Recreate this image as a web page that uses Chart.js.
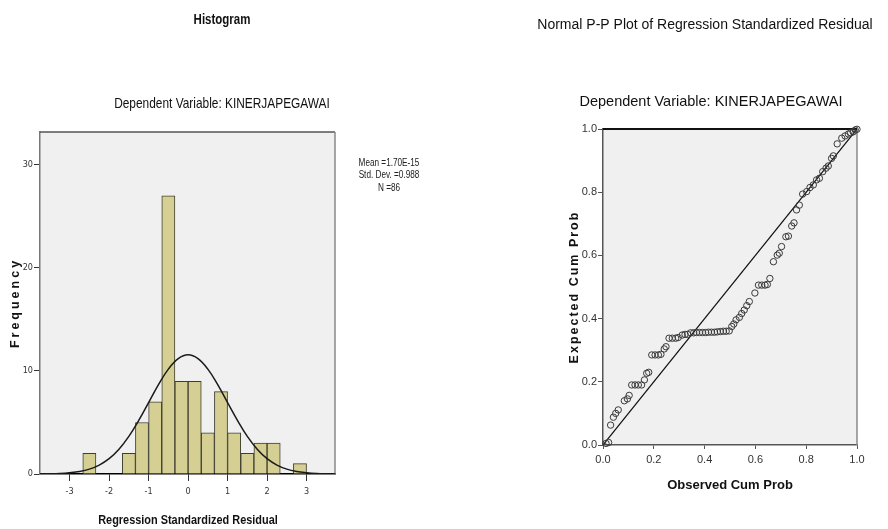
<!DOCTYPE html>
<html>
<head>
<meta charset="utf-8">
<script src="https://cdn.jsdelivr.net/npm/chart.js@4.4.1/dist/chart.umd.min.js"></script>
<style>
  body { margin: 0; background: #fff; }
  #wrap { position: relative; width: 888px; height: 529px; }
  canvas { position: absolute; top: 0; }
  #hist { left: 0; }
  #pp { left: 444px; }
</style>
</head>
<body>
<div id="wrap">
  <canvas id="hist" width="444" height="529"></canvas>
  <canvas id="pp" width="444" height="529"></canvas>
</div>
<script>
/************************************************************
    Histogram of regression standardized residuals
*************************************************************/
var binCenters = [-2.5, -2.167, -1.833, -1.5, -1.167, -0.833, -0.5, -0.167, 0.167, 0.5, 0.833, 1.167, 1.5, 1.833, 2.167, 2.5, 2.833];
var binCounts  = [2, 0, 0, 2, 5, 7, 27, 9, 9, 4, 8, 4, 2, 3, 3, 0, 1];

// normal curve
var curveX = [-3.75, -3.5, -3.25, -3, -2.75, -2.5, -2.25, -2, -1.75, -1.5, -1.25, -1, -0.75, -0.5, -0.25, 0,
              0.25, 0.5, 0.75, 1, 1.25, 1.5, 1.75, 2, 2.25, 2.5, 2.75, 3, 3.25, 3.5, 3.75];
var curveY = [0.01, 0.02, 0.05, 0.12, 0.24, 0.47, 0.87, 1.49, 2.41, 3.65, 5.2, 6.93, 8.68, 10.18, 11.2, 11.57,
              11.2, 10.18, 8.68, 6.93, 5.2, 3.65, 2.41, 1.49, 0.87, 0.47, 0.24, 0.12, 0.05, 0.02, 0.01];

var histXTicks = [-3, -2, -1, 0, 1, 2, 3];
var histYTicks = [0, 10, 20, 30];
var histStats = ['Mean =1.70E-15', 'Std. Dev. =0.988', 'N =86'];

/************************************************************
    Normal P-P plot
*************************************************************/
var ppObserved = [0.012, 0.022, 0.030, 0.041, 0.050, 0.060, 0.084, 0.096, 0.103, 0.113,
                  0.126, 0.139, 0.152, 0.163, 0.172, 0.180, 0.192, 0.205, 0.218, 0.228,
                  0.241, 0.248, 0.260, 0.273, 0.286, 0.296, 0.312, 0.323, 0.333, 0.345,
                  0.357, 0.368, 0.380, 0.392, 0.404, 0.415, 0.427, 0.439, 0.450, 0.462,
                  0.474, 0.485, 0.497, 0.507, 0.515, 0.524, 0.537, 0.546, 0.556, 0.566,
                  0.576, 0.598, 0.612, 0.625, 0.638, 0.647, 0.657, 0.671, 0.686, 0.694,
                  0.703, 0.720, 0.730, 0.743, 0.752, 0.762, 0.773, 0.786, 0.802, 0.815,
                  0.828, 0.841, 0.852, 0.865, 0.878, 0.887, 0.900, 0.907, 0.922, 0.940,
                  0.953, 0.966, 0.975, 0.985, 0.993, 1.000];
var ppExpected = [0.005, 0.008, 0.063, 0.088, 0.100, 0.111, 0.140, 0.146, 0.157, 0.190,
                  0.190, 0.190, 0.190, 0.206, 0.227, 0.230, 0.285, 0.285, 0.285, 0.287,
                  0.304, 0.311, 0.338, 0.338, 0.338, 0.340, 0.348, 0.350, 0.350, 0.355,
                  0.355, 0.356, 0.356, 0.356, 0.356, 0.357, 0.357, 0.357, 0.358, 0.359,
                  0.360, 0.360, 0.361, 0.375, 0.383, 0.396, 0.404, 0.416, 0.427, 0.441,
                  0.454, 0.481, 0.506, 0.506, 0.506, 0.508, 0.527, 0.580, 0.601, 0.607,
                  0.628, 0.659, 0.661, 0.693, 0.703, 0.744, 0.759, 0.794, 0.802, 0.815,
                  0.823, 0.839, 0.844, 0.865, 0.876, 0.883, 0.907, 0.915, 0.953, 0.971,
                  0.978, 0.984, 0.988, 0.991, 0.997, 0.999];
var ppTicks = [0, 0.2, 0.4, 0.6, 0.8, 1];

var CONDENSED = '"DejaVu Sans Condensed", "Liberation Sans Narrow", sans-serif';
var ARIAL = '"Liberation Sans", Arial, sans-serif';

Chart.defaults.font.family = ARIAL;
Chart.defaults.color = '#333';

//Plot background, frame and the free texts (titles, stats)
var decor = {
    id: 'decor',
    beforeDraw: function (chart, args, opts) {
        var a = chart.chartArea, ctx = chart.ctx;
        ctx.save();
        ctx.fillStyle = opts.fill;
        ctx.fillRect(a.left, a.top, a.right - a.left, a.bottom - a.top);
        ctx.restore();
    },
    beforeDatasetsDraw: function (chart, args, opts) {
        var a = chart.chartArea, ctx = chart.ctx;
        ctx.save();
        ctx.lineWidth = opts.topWidth;
        ctx.strokeStyle = opts.top;
        ctx.beginPath(); ctx.moveTo(a.left, a.top); ctx.lineTo(a.right, a.top); ctx.stroke();
        ctx.lineWidth = 1.5;
        ctx.strokeStyle = opts.right;
        ctx.beginPath(); ctx.moveTo(a.right, a.top); ctx.lineTo(a.right, a.bottom); ctx.stroke();
        ctx.restore();
    },
    afterDraw: function (chart, args, opts) {
        var ctx = chart.ctx;
        opts.texts.forEach(function (t) {
            ctx.save();
            ctx.font = t.font;
            ctx.fillStyle = t.color || '#111';
            ctx.textAlign = 'center';
            ctx.textBaseline = 'middle';
            ctx.letterSpacing = t.spacing || '0px';
            ctx.translate(t.x, t.y);
            if (t.rotate) ctx.rotate(-Math.PI / 2);
            // narrow (SPSS style) text: squeeze Arial horizontally
            if (t.squeeze) ctx.scale(t.squeeze, 1);
            ctx.fillText(t.text, 0, 0);
            ctx.restore();
        });
    }
};

function fixedTicks(list) {
    return function (scale) {
        scale.ticks = list.map(function (v) { return { value: v }; });
    };
}

var histTexts = [
    { text: 'Histogram', x: 222, y: 20.5, font: 'bold 14px ' + ARIAL, squeeze: 0.82 },
    { text: 'Dependent Variable: KINERJAPEGAWAI', x: 222, y: 104, font: '14.5px ' + ARIAL, squeeze: 0.82 },
    { text: 'Frequency', x: 16, y: 303, font: 'bold 12.5px ' + ARIAL, spacing: '3px', rotate: true },
    { text: 'Regression Standardized Residual', x: 188, y: 520, font: 'bold 13px ' + ARIAL, squeeze: 0.84 }
];
histStats.forEach(function (s, i) {
    histTexts.push({ text: s, x: 389, y: 163 + i * 12.5, font: '10px ' + ARIAL, squeeze: 0.82, color: '#222' });
});

new Chart(document.getElementById('hist'), {
    type: 'bar',
    data: {
        datasets: [
            {
                type: 'line',
                data: curveX.map(function (x, i) { return { x: x, y: curveY[i] }; }),
                borderColor: '#1a1a1a',
                borderWidth: 1.5,
                pointRadius: 0,
                tension: 0.4,
                order: 0
            },
            {
                type: 'bar',
                data: binCenters.map(function (x, i) { return { x: x, y: binCounts[i] }; }),
                backgroundColor: '#d5cf93',
                borderColor: '#3e3e30',
                borderWidth: 1,
                barPercentage: 1,
                categoryPercentage: 1,
                order: 1
            }
        ]
    },
    options: {
        responsive: false,
        animation: false,
        layout: { padding: { left: 0, top: 132, right: 109, bottom: 0 } },
        plugins: {
            legend: { display: false },
            tooltip: { enabled: false },
            decor: { fill: '#f0f0f0', top: '#555', topWidth: 1.5, right: '#888', texts: histTexts }
        },
        scales: {
            x: {
                type: 'linear', min: -3.75, max: 3.72, offset: false,
                afterBuildTicks: fixedTicks(histXTicks),
                afterFit: function (s) { s.height = 55; },
                grid: { drawOnChartArea: false, offset: false, tickLength: 7, color: '#333' },
                border: { color: '#000', width: 1.5 },
                ticks: { font: { family: CONDENSED, size: 9 }, padding: 5, maxRotation: 0, color: '#333' }
            },
            y: {
                type: 'linear', min: 0, max: 33.2,
                afterBuildTicks: fixedTicks(histYTicks),
                afterFit: function (s) { s.width = 40; },
                grid: { drawOnChartArea: false, tickLength: 6, color: '#333' },
                border: { color: '#777', width: 1.5 },
                ticks: { font: { family: CONDENSED, size: 9 }, padding: 1, color: '#333' }
            }
        }
    },
    plugins: [decor]
});

var ppTexts = [
    { text: 'Normal P-P Plot of Regression Standardized Residual', x: 261, y: 25, font: '14px ' + ARIAL },
    { text: 'Dependent Variable: KINERJAPEGAWAI', x: 267, y: 102, font: '14.5px ' + ARIAL },
    { text: 'Expected Cum Prob', x: 131, y: 287, font: 'bold 12.5px ' + ARIAL, spacing: '2px', rotate: true },
    { text: 'Observed Cum Prob', x: 286, y: 485, font: 'bold 13px ' + ARIAL }
];

new Chart(document.getElementById('pp'), {
    type: 'scatter',
    data: {
        datasets: [
            {
                data: ppObserved.map(function (x, i) { return { x: x, y: ppExpected[i] }; }),
                pointStyle: 'circle',
                pointRadius: 3.2,
                pointBorderWidth: 1,
                pointBorderColor: '#3a3a3a',
                pointBackgroundColor: 'rgba(0,0,0,0)',
                clip: false,
                order: 0
            },
            {
                type: 'line',
                data: [{ x: 0, y: 0 }, { x: 1, y: 1 }],
                borderColor: '#111',
                borderWidth: 1.2,
                pointRadius: 0,
                order: 1
            }
        ]
    },
    options: {
        responsive: false,
        animation: false,
        layout: { padding: { left: 0, top: 129, right: 31, bottom: 0 } },
        plugins: {
            legend: { display: false },
            tooltip: { enabled: false },
            decor: { fill: '#f0f0f0', top: '#111', topWidth: 2, right: '#888', texts: ppTexts }
        },
        scales: {
            x: {
                type: 'linear', min: 0, max: 1,
                afterBuildTicks: fixedTicks(ppTicks),
                afterFit: function (s) { s.height = 84; },
                grid: { drawOnChartArea: false, tickLength: 4, color: '#555' },
                border: { color: '#555', width: 1.5 },
                ticks: { font: { size: 11 }, padding: 4, maxRotation: 0, color: '#333',
                         callback: function (v) { return v.toFixed(1); } }
            },
            y: {
                type: 'linear', min: 0, max: 1,
                afterBuildTicks: fixedTicks(ppTicks),
                afterFit: function (s) { s.width = 159; },
                grid: { drawOnChartArea: false, tickLength: 5, color: '#555' },
                border: { color: '#555', width: 1.5 },
                ticks: { font: { size: 11 }, padding: 1, color: '#333',
                         callback: function (v) { return v.toFixed(1); } }
            }
        }
    },
    plugins: [decor]
});
</script>
</body>
</html>
